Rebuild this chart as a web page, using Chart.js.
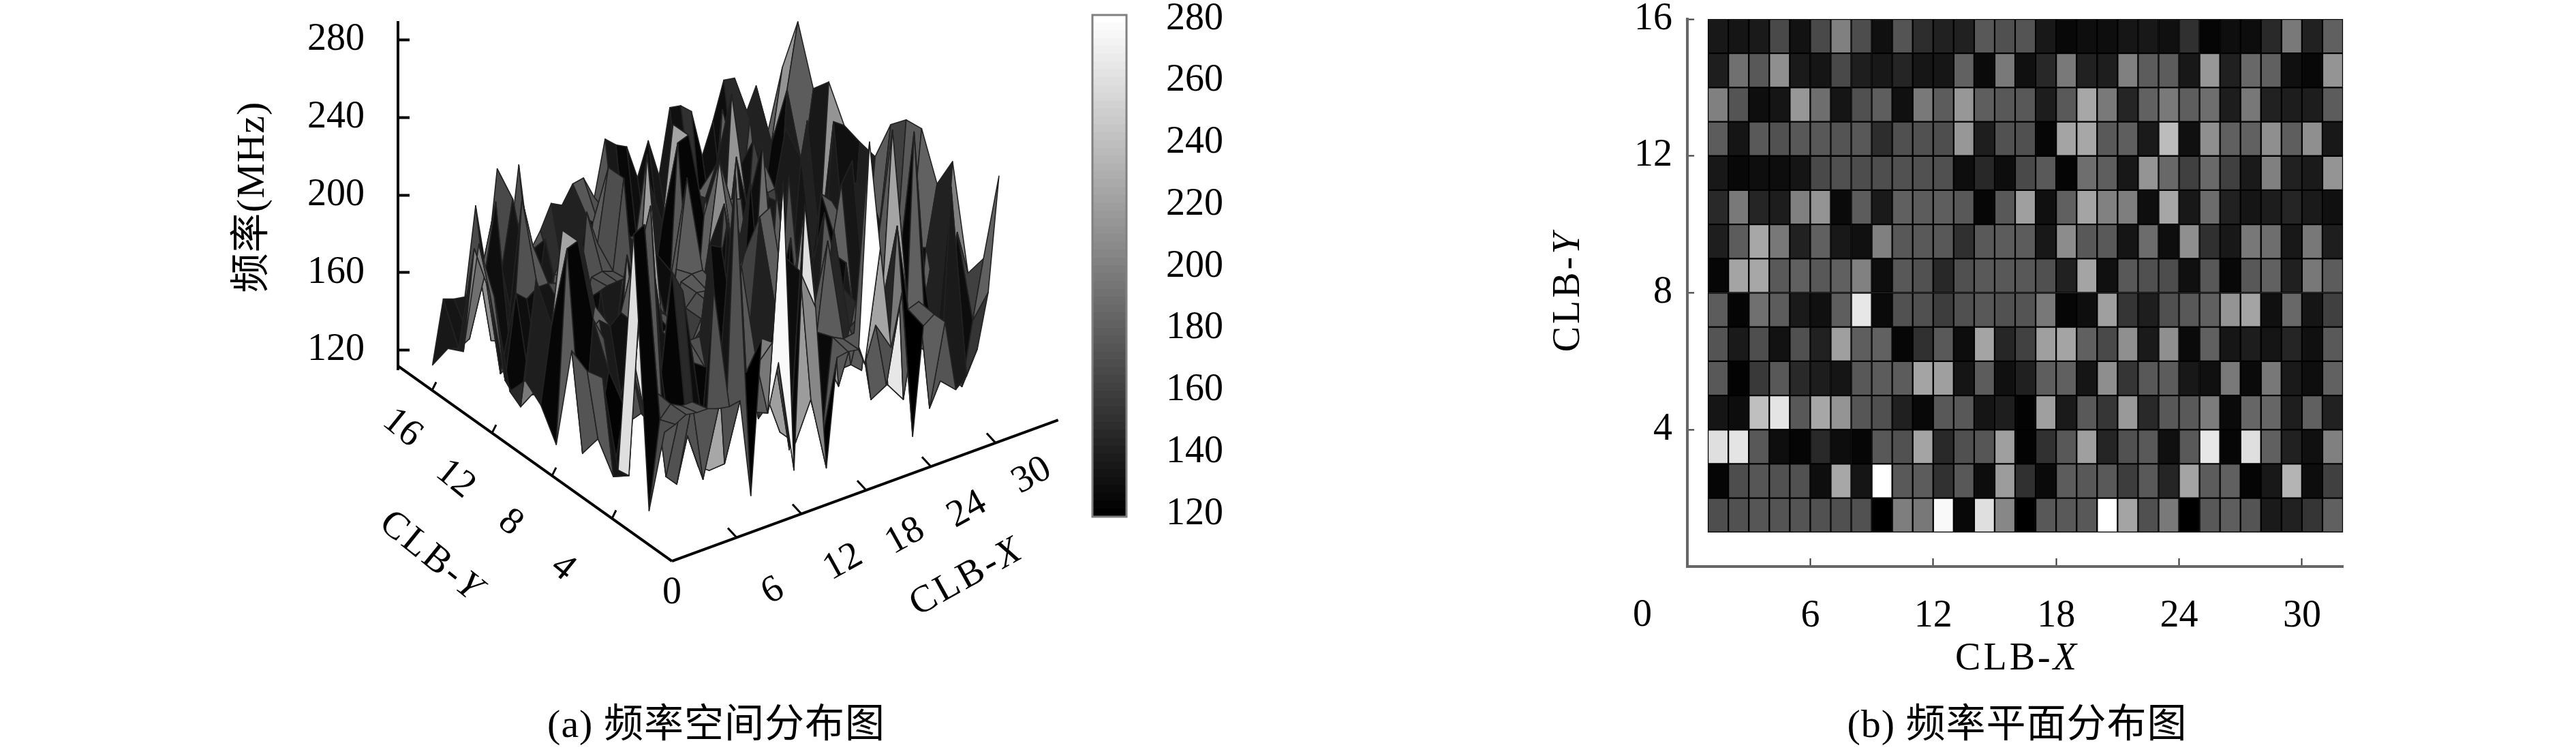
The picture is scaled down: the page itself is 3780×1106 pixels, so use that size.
<!DOCTYPE html>
<html><head><meta charset="utf-8">
<style>html,body{margin:0;padding:0;background:#fff;width:3780px;height:1106px;overflow:hidden}canvas{position:absolute;top:0}</style>
<script src="https://cdn.jsdelivr.net/npm/chart.js@4/dist/chart.umd.min.js"></script>
</head><body>
<canvas id="surface" width="1600" height="1106" style="left:0"></canvas>
<canvas id="cbar" width="300" height="1106" style="left:1560px"></canvas>
<canvas id="heat" width="1580" height="1106" style="left:2200px"></canvas>
<script>
// frequency (MHz) at CLB-Y = 1..16, CLB-X = 1..32
const row01=[169,171,174,173,173,171,170,171,120,199,195,276,125,260,205,120,175,176,175,280,223,170,196,120,175,179,173,136,141,153,180,238];
const row02=[123,168,174,171,171,129,225,133,280,176,178,151,175,128,218,150,126,178,175,176,158,176,143,223,178,180,123,135,233,128,160,190];
const row03=[260,263,175,129,123,146,128,124,175,171,223,146,170,174,220,122,151,175,220,143,171,176,130,176,265,124,260,180,141,130,200,177];
const row04=[133,128,240,263,175,225,213,174,170,140,125,175,175,133,139,122,220,136,176,154,216,146,175,176,198,126,184,184,139,180,141,229];
const row05=[175,122,156,175,146,138,133,175,178,178,223,220,133,178,130,140,179,180,133,209,153,175,178,135,130,196,126,195,136,129,181,212];
const row06=[173,136,169,131,170,141,220,179,181,124,150,176,128,223,144,161,220,223,180,166,210,136,210,126,180,134,138,133,143,130,176,235];
const row07=[178,123,190,178,136,130,179,265,126,171,170,158,170,175,171,173,195,124,129,220,153,139,170,175,180,213,223,130,185,133,160,234];
const row08=[124,223,225,176,180,175,180,201,128,175,171,145,170,176,175,175,170,141,223,130,175,170,168,130,175,125,175,181,140,195,178,226];
const row09=[139,178,225,195,141,180,135,130,200,175,176,175,150,176,178,178,135,208,175,176,133,188,129,210,150,135,195,189,135,195,139,204];
const row10=[146,196,143,138,200,213,126,178,136,180,178,179,175,124,175,220,130,180,223,201,199,129,224,135,188,141,133,138,143,136,130,206];
const row11=[135,125,129,128,133,166,170,168,169,171,171,170,129,145,128,166,176,123,189,179,135,213,185,160,186,160,136,200,141,136,213,209];
const row12=[178,133,176,171,175,175,173,175,148,170,171,169,215,139,171,170,124,223,225,176,179,136,238,130,210,180,181,210,179,210,135,226];
const row13=[200,173,129,133,215,189,133,170,179,130,196,178,215,179,175,175,138,176,225,196,143,181,196,179,189,138,195,141,138,138,178,217];
const row14=[139,190,175,210,136,133,166,139,135,143,134,134,181,126,196,130,145,196,141,139,200,178,178,135,215,140,185,180,130,125,213,246];
const row15=[135,133,136,166,131,166,200,168,130,173,148,141,141,175,170,173,135,125,129,129,134,135,130,150,123,129,128,146,196,141,180,217];
const row16=[121,153,151,150,195,159,210,161,208,161,170,182,179,188,189,177,205,200,197,179,196,176,209,208,203,178,194,213,212,191,204,176];
const rows=[row01,row02,row03,row04,row05,row06,row07,row08,row09,row10,row11,row12,row13,row14,row15,row16];

const zTicks=[120,160,200,240,280];
const cbTicks=[120,140,160,180,200,220,240,260,280];
const xTicks3d=[6,12,18,24,30];
const yTicks3d=[4,8,12,16];
const heatXTicks=[6,12,18,24,30];
const heatYTicks=[4,8,12,16];

const SERIF="'Liberation Serif','Noto Sans CJK SC',serif";
const FS=56;
const grey=v=>{const g=Math.round(Math.max(0,Math.min(1,(v-120)/160))*255);return `rgb(${g},${g},${g})`;};

// oblique view of the (x, y, z) box onto the chart's own scales
const project=(x,y,z)=>({x:398+15.83*x-22.7*y, y:z-98.9+(5.78*x+15.65*y)/2.84});
const projectFloor=(x,y,z)=>({x:402+15.83*x-22*y, y:z-98.9+(5.78*x+15.65*y)/2.84});

function drawRuns(ctx,t){
  ctx.save();
  ctx.translate(t.x,t.y);
  ctx.rotate((t.rot||0)*Math.PI/180);
  ctx.fillStyle='#000';ctx.textBaseline='middle';ctx.textAlign='left';
  const size=t.size||FS;
  ctx.letterSpacing=(t.spacing||0)+'px';
  const fonts=t.runs.map(r=>(r.i?'italic ':'')+size+'px '+SERIF);
  let w=0;t.runs.forEach((r,i)=>{ctx.font=fonts[i];w+=ctx.measureText(r.s).width;});
  let cx=-w/2;
  t.runs.forEach((r,i)=>{ctx.font=fonts[i];ctx.fillText(r.s,cx,0);cx+=ctx.measureText(r.s).width;});
  ctx.restore();
}
const textPlugin={id:'textPlugin',afterDraw(c,a,o){(o.items||[]).forEach(t=>drawRuns(c.ctx,t));}};
const plain=s=>[{s}];
const clb=l=>[{s:'CLB-'},{s:l,i:true}];
const noPad=s=>{s.paddingTop=0;s.paddingBottom=0;s.paddingLeft=0;s.paddingRight=0;};

// ---------- (a) surface
const surfPoints=[];
rows.forEach((r,j)=>r.forEach((v,i)=>surfPoints.push(project(i+1,j+1,v))));
const XN=row01.length,YN=rows.length;
const surfacePlugin={id:'surfacePlugin',afterDatasetsDraw(c){
  const pts=c.getDatasetMeta(0).data,ctx=c.ctx,q=[];
  for(let j=0;j<YN-1;j++)for(let i=0;i<XN-1;i++)q.push([i,j]);
  q.sort((a,b)=>(b[0]+b[1]*1.3)-(a[0]+a[1]*1.3));
  ctx.save();ctx.lineJoin='round';ctx.lineWidth=1.6;ctx.strokeStyle='#222';
  q.forEach(([i,j])=>{
    const k=j*XN+i,p=[pts[k],pts[k+1],pts[k+XN+1],pts[k+XN]];
    ctx.beginPath();ctx.moveTo(p[0].x,p[0].y);for(let n=1;n<4;n++)ctx.lineTo(p[n].x,p[n].y);ctx.closePath();
    ctx.fillStyle=grey(rows[j][i]);ctx.fill();ctx.stroke();
  });
  ctx.restore();
}};
const FLOOR=110;
const line=(a,b,w)=>({type:'line',data:[a,b],borderColor:'#000',borderWidth:w,pointRadius:0,clip:false,showLine:true,fill:false});
const tick=(p,du,dv,w)=>line(p,{x:p.x+du,y:p.y+dv/2.84},w);
new Chart(document.getElementById('surface'),{
  type:'scatter',
  data:{datasets:[
    {label:'频率',data:surfPoints,pointRadius:0,showLine:false,clip:false},
    line(projectFloor(0,0,FLOOR),projectFloor(35.8,0,FLOOR),4),
    line(projectFloor(0,0,FLOOR),projectFloor(0,18.27,FLOOR),4),
    ...xTicks3d.map(v=>tick(projectFloor(v,0,FLOOR),-13,14,3)),
    ...yTicks3d.map(v=>tick(projectFloor(0,v,FLOOR),6,12,3)),
  ]},
  options:{responsive:false,animation:false,events:[],
    layout:{padding:{top:33,bottom:564,left:0,right:48}},
    plugins:{legend:{display:false},tooltip:{enabled:false},
      textPlugin:{items:[
        {runs:plain('频率(MHz)'),x:372,y:289,rot:-90,size:58,spacing:1},
        {runs:plain('16'),x:590,y:628,rot:39},{runs:plain('12'),x:668,y:703,rot:39},
        {runs:plain('8'),x:749,y:767,rot:39},{runs:plain('4'),x:826,y:833,rot:39},
        {runs:clb('Y'),x:633,y:817,rot:39,spacing:4},
        {runs:plain('0'),x:986,y:870},{runs:plain('6'),x:1134,y:867,rot:-29},
        {runs:plain('12'),x:1237,y:825,rot:-29},{runs:plain('18'),x:1328,y:787,rot:-29},
        {runs:plain('24'),x:1419,y:748,rot:-29},{runs:plain('30'),x:1514,y:698,rot:-29},
        {runs:clb('X'),x:1419,y:847,rot:-29,spacing:4},
        {runs:plain('(a) 频率空间分布图'),x:1051,y:1066,size:58,spacing:1},
      ]}},
    scales:{
      x:{type:'linear',display:false,min:0,max:968},
      y:{type:'linear',position:'left',min:110,max:289,
        afterFit:s=>{s.width=584;noPad(s);},
        afterBuildTicks:s=>{s.ticks=zTicks.map(value=>({value}));},
        grid:{drawOnChartArea:false,tickLength:-17,tickWidth:4,tickColor:'#000'},
        border:{color:'#000',width:4},
        ticks:{color:'#000',font:{family:SERIF,size:FS},padding:66,maxRotation:0}}
    }},
  plugins:[surfacePlugin,textPlugin]
});

// ---------- colour bar
const CB_MIN=114,CB_MAX=280.5,CB_LEVELS=64;
const cbLevels=Array.from({length:CB_LEVELS},(_,i)=>i);
new Chart(document.getElementById('cbar'),{
  type:'bar',
  data:{labels:[''],datasets:cbLevels.map(i=>{
    const h=(CB_MAX-CB_MIN)/CB_LEVELS,g=Math.round(i*255/(CB_LEVELS-1));
    return {data:[[CB_MIN+i*h,CB_MIN+(i+1)*h+0.1]],backgroundColor:`rgb(${g},${g},${g})`,borderWidth:0,grouped:false,
      barPercentage:1,categoryPercentage:1,yAxisID:'y'};
  })},
  options:{responsive:false,animation:false,events:[],
    layout:{padding:{top:22,bottom:348,left:43,right:0}},
    plugins:{legend:{display:false},tooltip:{enabled:false}},
    scales:{
      x:{display:false},
      y:{position:'right',min:CB_MIN,max:CB_MAX,
        afterFit:s=>{s.width=0;noPad(s);},
        afterBuildTicks:s=>{s.ticks=cbTicks.map(value=>({value}));},
        grid:{drawOnChartArea:false,tickLength:-8,tickWidth:2,tickColor:'#333'},
        border:{display:false},
        ticks:{display:false}},
      y2:{position:'right',min:119.1,max:281.3,
        afterFit:s=>{s.width=207;noPad(s);},
        afterBuildTicks:s=>{s.ticks=cbTicks.map(value=>({value}));},
        grid:{display:false},border:{display:false},
        ticks:{color:'#000',font:{family:SERIF,size:FS},padding:50,maxRotation:0}}
    }},
  plugins:[{id:'frame',afterDraw(c){const a=c.chartArea,x=c.ctx;x.save();x.strokeStyle='#808080';x.lineWidth=3;x.strokeRect(a.left,a.top,a.right-a.left,a.bottom-a.top);x.restore();}}]
});

// ---------- (b) plane map (pcolor: last row and column are not shown)
const heatCells=[],heatColors=[];
rows.slice(0,YN-1).forEach((r,j)=>r.slice(0,XN-1).forEach((v,i)=>{
  heatCells.push({x:i+1.5,y:[j+1,j+2]});heatColors.push(grey(v));
}));
new Chart(document.getElementById('heat'),{
  type:'bar',
  data:{datasets:[{label:'频率',data:heatCells,backgroundColor:heatColors,borderColor:'#000',borderWidth:1.5,borderSkipped:false,
    barPercentage:1,categoryPercentage:1,clip:false}]},
  options:{responsive:false,animation:false,events:[],
    layout:{padding:{top:28,left:0,right:342,bottom:0}},
    plugins:{legend:{display:false},tooltip:{enabled:false},
      textPlugin:{items:[
        {runs:plain('0'),x:210,y:903},
        {runs:clb('X'),x:760,y:967,spacing:4},
        {runs:clb('Y'),x:102,y:427,rot:-90,spacing:4},
        {runs:plain('(b) 频率平面分布图'),x:760,y:1066,size:58,spacing:1},
      ]}},
    scales:{
      x:{type:'linear',min:0,max:32,offset:false,
        afterFit:s=>{s.height=275;noPad(s);},
        afterBuildTicks:s=>{s.ticks=heatXTicks.map(value=>({value}));},
        grid:{drawOnChartArea:false,offset:false,tickLength:-12,tickWidth:2,tickColor:'#333'},
        border:{color:'#666',width:4},
        ticks:{color:'#000',font:{family:SERIF,size:FS},padding:52,maxRotation:0}},
      y:{type:'linear',min:0,max:16,
        afterFit:s=>{s.width=276;noPad(s);},
        afterBuildTicks:s=>{s.ticks=heatYTicks.map(value=>({value}));},
        grid:{drawOnChartArea:false,tickLength:-10,tickWidth:2,tickColor:'#333'},
        border:{color:'#666',width:4},
        ticks:{color:'#000',font:{family:SERIF,size:FS},padding:32,maxRotation:0}}
    }},
  plugins:[textPlugin]
});
</script>
</body></html>
